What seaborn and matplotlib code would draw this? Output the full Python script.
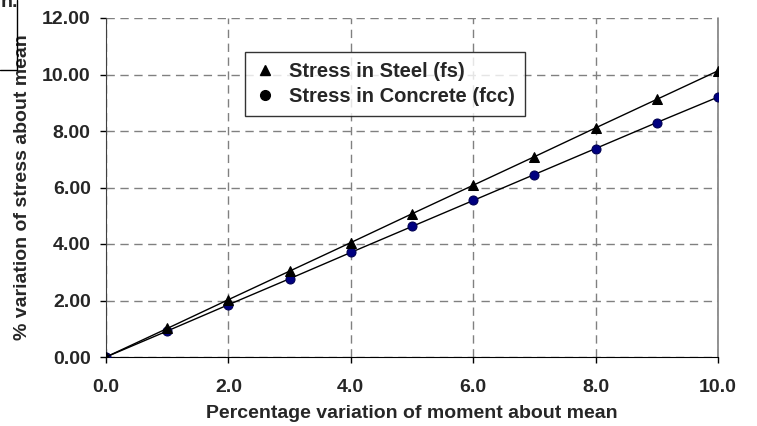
import numpy as np
import pandas as pd
import matplotlib
matplotlib.use("Agg")
import matplotlib.pyplot as plt
from matplotlib.lines import Line2D
import seaborn as sns

# values
moment_pct = [0, 1, 2, 3, 4, 5, 6, 7, 8, 9, 10]
steel_stress = [0.0, 1.01, 2.03, 3.04, 4.05, 5.07, 6.08, 7.09, 8.11, 9.12, 10.13]
concrete_stress = [0.0, 0.92, 1.85, 2.77, 3.70, 4.62, 5.54, 6.46, 7.38, 8.30, 9.20]
x_ticks = [0, 2, 4, 6, 8, 10]
y_ticks = [0, 2, 4, 6, 8, 10, 12]
labels = ["Stress in Steel (fs)", "Stress in Concrete (fcc)"]

sns.set_style("white")
plt.rcParams["font.family"] = ["Liberation Sans", "DejaVu Sans"]
plt.rcParams["font.weight"] = "bold"
FS = 14

df = pd.DataFrame({"x": moment_pct, "steel": steel_stress, "concrete": concrete_stress})

fig = plt.figure(figsize=(7.57, 4.26), dpi=100)
ax = fig.add_axes([106 / 757, 1 - 357 / 426, 612 / 757, 339 / 426])

sns.lineplot(data=df, x="x", y="steel", ax=ax, color="black", lw=1,
             marker="^", markersize=7, markerfacecolor="black",
             markeredgecolor="black", zorder=4)
sns.lineplot(data=df, x="x", y="concrete", ax=ax, color="black", lw=1,
             marker="o", markersize=6.5, markerfacecolor="#000080",
             markeredgecolor="#000050", zorder=3)

ax.set_xlim(0, 10)
ax.set_ylim(0, 12)
ax.set_xticks(x_ticks)
ax.set_xticklabels([f"{v:.1f}" for v in x_ticks], fontsize=FS, fontweight="bold")
ax.set_yticks(y_ticks)
ax.set_yticklabels([f"{v:.2f}" for v in y_ticks], fontsize=FS, fontweight="bold")
ax.tick_params(axis="both", direction="out", length=4, width=1, color="black",
               bottom=True, left=True)
ax.tick_params(axis="x", pad=12)
ax.tick_params(axis="y", pad=7)

ax.grid(True, color="#808080", linestyle=(0, (6, 4)), linewidth=1)
ax.set_axisbelow(True)

for side in ["top", "right"]:
    ax.spines[side].set_visible(False)
ax.spines["left"].set_color("#404040")
ax.spines["bottom"].set_color("black")
# right edge drawn as a solid grey line
ax.axvline(10, color="#808080", lw=1.2, zorder=1, clip_on=False)

ax.set_xlabel("Percentage variation of moment about mean", fontsize=FS,
              fontweight="bold", labelpad=6)
ax.set_ylabel("% variation of stress about mean", fontsize=FS,
              fontweight="bold", labelpad=8)

handles = [
    Line2D([], [], linestyle="none", marker="^", markersize=7, color="black"),
    Line2D([], [], linestyle="none", marker="o", markersize=7, color="black"),
]
leg = ax.legend(handles, labels, loc="upper left", bbox_to_anchor=(0.227, 0.9),
                borderaxespad=0, frameon=True, fancybox=False,
                prop={"weight": "bold", "size": 14.5}, handletextpad=0.7,
                handlelength=1.0, labelspacing=0.3, borderpad=0.5)
leg.get_frame().set_edgecolor("black")
leg.get_frame().set_linewidth(1)

# clipped box remnant in the top-left corner
fig.add_artist(Line2D([17 / 757, 17 / 757], [1, 1 - 70 / 426], color="black", lw=1))
fig.add_artist(Line2D([0, 17 / 757], [1 - 70 / 426, 1 - 70 / 426], color="black", lw=1))
fig.text(1 / 757, 1 + 6 / 426, "n.", fontsize=FS, fontweight="bold", va="top")

fig.savefig("out.png", dpi=100)
